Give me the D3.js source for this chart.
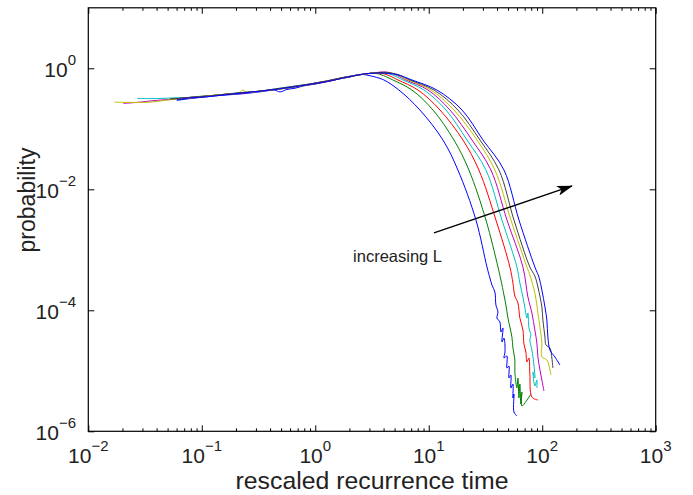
<!DOCTYPE html>
<html><head><meta charset="utf-8">
<script src="https://cdn.jsdelivr.net/npm/d3@7"></script>
<style>
body{margin:0;background:#fff}
svg{display:block}
text{font-family:"Liberation Sans",Arial,Helvetica,sans-serif;fill:#222}
</style>
</head><body>
<svg id="chart" width="693" height="495"></svg>
<script>
// ---- tick labels ----
const xTickValues = [1e-2, 1e-1, 1e0, 1e1, 1e2, 1e3];
const xTickExponents = ["\u22122", "\u22121", "0", "1", "2", "3"];
const yTickValues = [1e-6, 1e-4, 1e-2, 1e0];
const yTickExponents = ["\u22126", "\u22124", "\u22122", "0"];

const seriesColors = ["#0000ff", "#008000", "#ff0000", "#00bfbf", "#bf00bf", "#bfbf00", "#404040", "#0000ff"];

const seriesL1 = [[-1.22,-0.53],[-1.10,-0.50],[-1.0,-0.48],[-0.85,-0.45],[-0.70,-0.43],[-0.58,-0.41],[-0.45,-0.38],[-0.36,-0.36],[-0.31,-0.39],[-0.25,-0.35],[-0.18,-0.33],[-0.10,-0.29],[0.0,-0.26],[0.08,-0.23],[0.16,-0.20],[0.24,-0.16],[0.30,-0.15],[0.36,-0.11],[0.41,-0.10],[0.45,-0.11],[0.52,-0.14],[0.605,-0.193],[0.737,-0.359],[0.922,-0.689],[1.125,-1.185],[1.257,-1.681],[1.416,-2.507],[1.513,-3.284],[1.539,-3.466],[1.557,-3.582],[1.583,-3.698],[1.592,-3.912],[1.610,-4.028],[1.601,-4.127],[1.627,-4.193],[1.636,-4.359],[1.654,-4.292],[1.645,-4.524],[1.663,-4.458],[1.672,-4.689],[1.663,-4.788],[1.689,-4.755],[1.689,-4.954],[1.707,-4.921],[1.707,-5.119],[1.724,-5.069],[1.724,-5.284],[1.742,-5.218],[1.742,-5.450],[1.751,-5.383],[1.751,-5.681],[1.777,-5.747]];

const seriesL2 = [[-1.28,-0.50],[-1.15,-0.49],[-1.0,-0.46],[-0.85,-0.44],[-0.70,-0.42],[-0.55,-0.39],[-0.40,-0.36],[-0.25,-0.33],[-0.12,-0.29],[0.0,-0.25],[0.12,-0.21],[0.25,-0.16],[0.36,-0.12],[0.45,-0.09],[0.53,-0.08],[0.60,-0.12],[0.684,-0.193],[0.852,-0.359],[1.037,-0.689],[1.222,-1.185],[1.354,-1.681],[1.504,-2.507],[1.610,-3.284],[1.636,-3.499],[1.663,-3.747],[1.680,-3.912],[1.698,-4.127],[1.715,-4.276],[1.733,-4.441],[1.742,-4.623],[1.759,-4.821],[1.759,-5.019],[1.777,-5.284],[1.786,-5.119],[1.795,-5.450],[1.803,-5.218],[1.812,-5.549],[1.821,-5.350],[1.821,-5.582],[1.900,-5.383]];

const seriesL3 = [[-1.25,-0.51],[-1.1,-0.49],[-0.95,-0.46],[-0.8,-0.43],[-0.65,-0.41],[-0.5,-0.38],[-0.35,-0.35],[-0.2,-0.31],[-0.05,-0.27],[0.1,-0.22],[0.25,-0.16],[0.38,-0.11],[0.50,-0.08],[0.58,-0.08],[0.65,-0.12],[0.729,-0.193],[0.905,-0.359],[1.099,-0.689],[1.301,-1.185],[1.442,-1.681],[1.592,-2.507],[1.715,-3.284],[1.742,-3.549],[1.759,-3.764],[1.786,-3.879],[1.803,-4.127],[1.830,-4.326],[1.839,-4.557],[1.856,-4.689],[1.865,-4.854],[1.883,-4.788],[1.891,-5.052],[1.909,-5.433],[1.962,-5.483]];

const seriesL4 = [[-1.57,-0.50],[-1.4,-0.50],[-1.25,-0.49],[-1.1,-0.48],[-0.95,-0.46],[-0.8,-0.43],[-0.65,-0.40],[-0.5,-0.38],[-0.35,-0.34],[-0.2,-0.30],[-0.05,-0.26],[0.1,-0.21],[0.25,-0.15],[0.38,-0.11],[0.50,-0.08],[0.60,-0.07],[0.68,-0.11],[0.773,-0.193],[0.958,-0.359],[1.152,-0.689],[1.337,-1.185],[1.504,-1.681],[1.645,-2.507],[1.777,-3.284],[1.803,-3.549],[1.830,-3.780],[1.848,-3.962],[1.865,-4.127],[1.874,-4.045],[1.883,-4.293],[1.900,-4.408],[1.891,-4.491],[1.909,-4.656],[1.927,-4.904],[1.935,-5.119],[1.918,-5.019],[1.935,-5.251],[1.953,-5.152],[1.953,-5.284]];

const seriesL5 = [[-1.69,-0.58],[-1.55,-0.56],[-1.40,-0.53],[-1.25,-0.51],[-1.1,-0.48],[-0.95,-0.46],[-0.8,-0.43],[-0.65,-0.41],[-0.5,-0.38],[-0.35,-0.35],[-0.2,-0.31],[-0.05,-0.26],[0.1,-0.21],[0.25,-0.15],[0.38,-0.11],[0.50,-0.08],[0.62,-0.06],[0.70,-0.10],[0.799,-0.193],[0.993,-0.359],[1.187,-0.689],[1.381,-1.185],[1.548,-1.681],[1.689,-2.507],[1.830,-3.284],[1.874,-3.780],[1.909,-4.045],[1.935,-4.326],[1.953,-4.541],[1.962,-4.772],[1.980,-4.987],[1.997,-5.152],[2.015,-5.334]];

const seriesL6 = [[-1.77,-0.56],[-1.46,-0.56],[-1.28,-0.52],[-1.1,-0.49],[-0.95,-0.46],[-0.8,-0.43],[-0.68,-0.41],[-0.64,-0.36],[-0.60,-0.40],[-0.5,-0.38],[-0.35,-0.35],[-0.2,-0.31],[-0.05,-0.27],[0.1,-0.21],[0.25,-0.16],[0.38,-0.11],[0.50,-0.08],[0.63,-0.07],[0.72,-0.11],[0.817,-0.193],[1.019,-0.359],[1.222,-0.689],[1.425,-1.185],[1.583,-1.681],[1.724,-2.507],[1.865,-3.284],[1.891,-3.416],[1.935,-3.714],[1.962,-4.045],[1.980,-4.276],[1.997,-4.541],[1.997,-4.772],[2.041,-4.821],[2.068,-4.987],[2.077,-5.069]];

const seriesL7 = [[-1.28,-0.51],[-1.1,-0.48],[-0.95,-0.46],[-0.8,-0.43],[-0.65,-0.40],[-0.5,-0.38],[-0.35,-0.34],[-0.2,-0.30],[-0.05,-0.26],[0.1,-0.21],[0.25,-0.15],[0.38,-0.11],[0.50,-0.08],[0.64,-0.07],[0.74,-0.11],[0.834,-0.193],[1.046,-0.359],[1.257,-0.689],[1.451,-1.185],[1.619,-1.681],[1.751,-2.507],[1.891,-3.284],[1.935,-3.433],[1.962,-3.615],[1.997,-3.945],[2.006,-4.160],[2.024,-4.441],[2.033,-4.573],[2.068,-4.623],[2.085,-4.788],[2.094,-4.954]];

const seriesL8 = [[-1.22,-0.52],[-1.1,-0.49],[-0.95,-0.47],[-0.8,-0.44],[-0.65,-0.41],[-0.5,-0.38],[-0.35,-0.35],[-0.2,-0.31],[-0.05,-0.27],[0.1,-0.22],[0.25,-0.16],[0.38,-0.11],[0.44,-0.09],[0.55,-0.08],[0.65,-0.085],[0.729,-0.11],[0.852,-0.193],[1.072,-0.359],[1.293,-0.689],[1.478,-1.185],[1.663,-1.681],[1.795,-2.507],[1.935,-3.284],[1.971,-3.450],[1.997,-3.666],[2.024,-3.945],[2.041,-4.160],[2.050,-4.441],[2.068,-4.656],[2.112,-4.772],[2.156,-4.904]];

// annotation (positions in log10 data units)
const annotationText = "increasing L";
const arrowFrom = [1.046, -2.72];
const arrowTo = [2.262, -1.945];
const annotationAt = [0.333, -3.20];

// ---- layout ----
const plot = {left: 88.3, top: 7.8, right: 655.7, bottom: 431.3};

const svg = d3.select("#chart");
const x = d3.scaleLog().domain([1e-2, 1e3]).range([plot.left, plot.right]);
const y = d3.scaleLog().domain([1e-6, 1e1]).range([plot.bottom, plot.top]);
const px = v => x(Math.pow(10, v));
const py = v => y(Math.pow(10, v));

const allSeries = [seriesL1, seriesL2, seriesL3, seriesL4, seriesL5, seriesL6, seriesL7, seriesL8];

const line = d3.line()
  .x(d => px(d[0]))
  .y(d => py(d[1]))
  .curve(d3.curveCatmullRom.alpha(0.5));

svg.append("clipPath").attr("id", "clip").append("rect")
  .attr("x", plot.left).attr("y", plot.top)
  .attr("width", plot.right - plot.left).attr("height", plot.bottom - plot.top);

svg.append("g").attr("clip-path", "url(#clip)")
  .selectAll("path").data(allSeries).join("path")
  .attr("d", line)
  .attr("fill", "none")
  .attr("stroke", (d, i) => seriesColors[i])
  .attr("stroke-width", 1)
  .attr("stroke-linejoin", "round");

// ---- axes (ticks inside, box) ----
const xMinor = [];
for (let e = -2; e < 3; e++) for (let k = 2; k <= 9; k++) xMinor.push(k * Math.pow(10, e));

function styleAxis(g) {
  g.select(".domain").remove();
  g.selectAll(".tick line").attr("stroke", "#000").attr("stroke-width", 1);
  g.selectAll(".tick text").remove();
}

svg.append("g").attr("transform", `translate(0,${plot.bottom})`)
  .call(d3.axisBottom(x).tickValues(xTickValues).tickSize(-6).tickFormat("")).call(styleAxis);
svg.append("g").attr("transform", `translate(0,${plot.bottom})`)
  .call(d3.axisBottom(x).tickValues(xMinor).tickSize(-3).tickFormat("")).call(styleAxis);
svg.append("g").attr("transform", `translate(0,${plot.top})`)
  .call(d3.axisTop(x).tickValues(xTickValues).tickSize(-6).tickFormat("")).call(styleAxis);
svg.append("g").attr("transform", `translate(0,${plot.top})`)
  .call(d3.axisTop(x).tickValues(xMinor).tickSize(-3).tickFormat("")).call(styleAxis);
svg.append("g").attr("transform", `translate(${plot.left},0)`)
  .call(d3.axisLeft(y).tickValues(yTickValues).tickSize(-6).tickFormat("")).call(styleAxis);
svg.append("g").attr("transform", `translate(${plot.right},0)`)
  .call(d3.axisRight(y).tickValues(yTickValues).tickSize(-6).tickFormat("")).call(styleAxis);

svg.append("rect")
  .attr("x", plot.left).attr("y", plot.top)
  .attr("width", plot.right - plot.left).attr("height", plot.bottom - plot.top)
  .attr("fill", "none").attr("stroke", "#000").attr("stroke-width", 1.2);

// ---- tick labels ----
const xl = svg.append("g").selectAll("text").data(xTickValues).join("text")
  .attr("x", d => x(d)).attr("y", 463)
  .attr("text-anchor", "middle").attr("font-size", 21);
xl.append("tspan").text("10");
xl.append("tspan").attr("dy", -12).attr("font-size", 15).text((d, i) => xTickExponents[i]);

const yl = svg.append("g").selectAll("text").data(yTickValues).join("text")
  .attr("x", 76).attr("y", d => y(d) + 8.7)
  .attr("text-anchor", "end").attr("font-size", 21);
yl.append("tspan").text("10");
yl.append("tspan").attr("dy", -12).attr("font-size", 15).text((d, i) => yTickExponents[i]);

// ---- axis titles ----
svg.append("text").attr("x", (plot.left + plot.right) / 2).attr("y", 489)
  .attr("text-anchor", "middle").attr("font-size", 24.8).text("rescaled recurrence time");
svg.append("text").attr("transform", "translate(35,200) rotate(-90)")
  .attr("text-anchor", "middle").attr("font-size", 23).text("probability");

// ---- annotation ----
svg.append("defs").append("marker").attr("id", "ah")
  .attr("viewBox", "0 0 16 10").attr("refX", 15).attr("refY", 5)
  .attr("markerWidth", 16).attr("markerHeight", 10).attr("markerUnits", "userSpaceOnUse")
  .attr("orient", "auto")
  .append("path").attr("d", "M0,0 L16,5 L0,10 L4,5 Z").attr("fill", "#000");

svg.append("line")
  .attr("x1", px(arrowFrom[0])).attr("y1", py(arrowFrom[1]))
  .attr("x2", px(arrowTo[0])).attr("y2", py(arrowTo[1]))
  .attr("stroke", "#000").attr("stroke-width", 1.3).attr("marker-end", "url(#ah)");

svg.append("text").attr("x", px(annotationAt[0])).attr("y", py(annotationAt[1]))
  .attr("font-size", 16.5).text(annotationText);
</script>
</body></html>
